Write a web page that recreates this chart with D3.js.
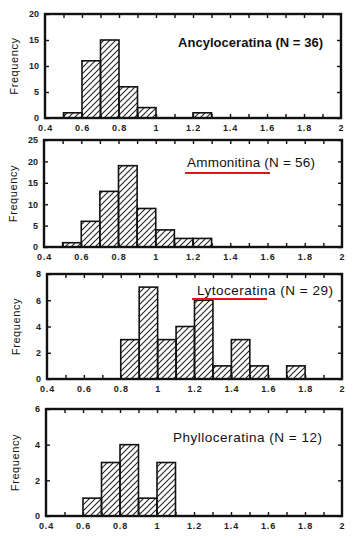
<!DOCTYPE html>
<html><head><meta charset="utf-8">
<script src="https://cdn.jsdelivr.net/npm/d3@7"></script>
<style>body{margin:0;background:#fff}svg{display:block}text{font-family:"Liberation Sans",Arial,sans-serif;fill:#111}</style>
</head><body><svg id="c" width="361" height="538"></svg>
<script>
const binStarts = [0.4,0.5,0.6,0.7,0.8,0.9,1.0,1.1,1.2,1.3,1.4,1.5,1.6,1.7,1.8,1.9];
const binWidth = 0.1;
const xTicks = [0.4,0.6,0.8,1,1.2,1.4,1.6,1.8,2];
const ancyloceratina = [0,1,11,15,6,2,0,0,1,0,0,0,0,0,0,0];
const ammonitina     = [0,1,6,13,19,9,4,2,2,0,0,0,0,0,0,0];
const lytoceratina   = [0,0,0,0,3,7,3,4,6,1,3,1,0,1,0,0];
const phylloceratina = [0,0,1,3,4,1,3,0,0,0,0,0,0,0,0,0];
const titles = ["Ancyloceratina (N = 36)","Ammonitina (N = 56)","Lytoceratina (N = 29)","Phylloceratina (N = 12)"];
const yMaxes = [20,25,8,6];
const yTickSets = [[0,5,10,15,20],[0,5,10,15,20,25],[0,2,4,6,8],[0,2,4,6]];
const series = [ancyloceratina, ammonitina, lytoceratina, phylloceratina];

// layout
const frames = [
  {l:45,r:341,t:14,b:118, tx:178, tw:145, ty:47, fs:13, ul:null},
  {l:44,r:342,t:140,b:247, tx:187, tw:128, ty:167, fs:13.5, ul:[185,270,173]},
  {l:47,r:342,t:274,b:379, tx:197, tw:136, ty:295, fs:13.5, ul:[192,267,299]},
  {l:46,r:342,t:409,b:516, tx:173, tw:149, ty:442, fs:13.5, ul:null}
];

const svg = d3.select("#c");
const defs = svg.append("defs");
const pat = defs.append("pattern").attr("id","hatch").attr("patternUnits","userSpaceOnUse")
  .attr("width",6).attr("height",6);
pat.append("path").attr("d","M-1,1 L1,-1 M0,6 L6,0 M5,7 L7,5").attr("stroke","#222").attr("stroke-width",1.1);

series.forEach((vals, i) => {
  const f = frames[i];
  const x = d3.scaleLinear().domain([0.4,2]).range([f.l,f.r]);
  const y = d3.scaleLinear().domain([0,yMaxes[i]]).range([f.b,f.t]);
  const g = svg.append("g");
  const data = binStarts.map((s,k)=>({s, v: vals[k]})).filter(d=>d.v>0);
  g.selectAll("rect.bar").data(data).join("rect").attr("class","bar")
    .attr("x", d=>x(d.s)).attr("width", d=>x(d.s+binWidth)-x(d.s))
    .attr("y", d=>y(d.v)).attr("height", d=>y(0)-y(d.v))
    .attr("fill","url(#hatch)").attr("stroke","#111").attr("stroke-width",1.6);

  const minor = d3.range(5,20).map(k=>k/10);
  const bottomAx = d3.axisTop(x).tickValues(minor).tickSize(4).tickFormat("");
  const topAx = d3.axisBottom(x).tickValues(minor).tickSize(4).tickFormat("");
  const gb = g.append("g").attr("transform",`translate(0,${f.b})`).call(bottomAx);
  const gt = g.append("g").attr("transform",`translate(0,${f.t})`).call(topAx);
  [gb,gt].forEach(a=>{a.select(".domain").remove(); a.selectAll("line").attr("stroke","#111").attr("stroke-width",1.4);});

  const xl = d3.axisBottom(x).tickValues(xTicks).tickSize(0).tickPadding(7).tickFormat(d3.format("~g"));
  const gxl = g.append("g").attr("transform",`translate(0,${f.b})`).call(xl);
  gxl.select(".domain").remove();
  gxl.selectAll("text").attr("font-size",9).attr("font-weight","bold").attr("letter-spacing",0.8).style("fill","#222");

  const yl = d3.axisRight(y).tickValues(yTickSets[i]).tickSize(4).tickFormat("");
  const yr = d3.axisLeft(y).tickValues(yTickSets[i]).tickSize(4).tickFormat("");
  const gyl = g.append("g").attr("transform",`translate(${f.l},0)`).call(yl);
  const gyr = g.append("g").attr("transform",`translate(${f.r},0)`).call(yr);
  [gyl,gyr].forEach(a=>{a.select(".domain").remove(); a.selectAll("line").attr("stroke","#111").attr("stroke-width",1.4);});
  const ylab = d3.axisLeft(y).tickValues(yTickSets[i]).tickSize(0).tickPadding(6).tickFormat(d3.format("d"));
  const gylab = g.append("g").attr("transform",`translate(${f.l},0)`).call(ylab);
  gylab.select(".domain").remove();
  gylab.selectAll("text").attr("font-size",9).attr("font-weight","bold").style("fill","#222");

  g.append("rect").attr("x",f.l).attr("y",f.t).attr("width",f.r-f.l).attr("height",f.b-f.t)
    .attr("fill","none").attr("stroke","#111").attr("stroke-width",2.4);

  g.append("text").attr("transform",`translate(${f.l-27},${(f.t+f.b)/2}) rotate(-90)`)
    .attr("text-anchor","middle").attr("font-size",11).attr("letter-spacing",0.6).text("Frequency");

  g.append("text").attr("x",f.tx).attr("y",f.ty).attr("text-anchor","start")
    .attr("font-size",f.fs).attr("font-weight", i===0?"bold":"normal")
    .attr("textLength",f.tw).attr("lengthAdjust","spacing")
    .style("fill","#111").text(titles[i]);
  if (f.ul) {
    g.append("line").attr("x1",f.ul[0]).attr("x2",f.ul[1]).attr("y1",f.ul[2]).attr("y2",f.ul[2])
      .attr("stroke","#e3121b").attr("stroke-width",2);
  }
});
</script></body></html>
